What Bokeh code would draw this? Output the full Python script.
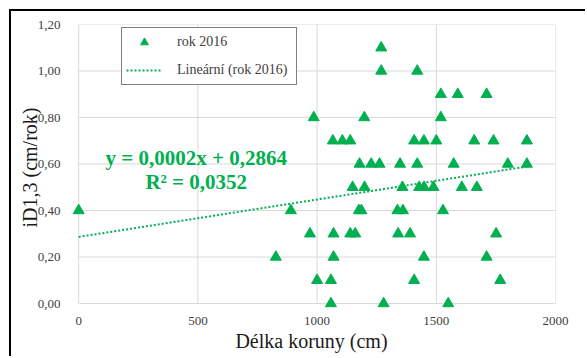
from bokeh.plotting import figure
from bokeh.models import Range1d, Legend, LegendItem, Label, FixedTicker
from bokeh.embed import file_html
from bokeh.resources import INLINE

# ---- data ----
x_vals = [0, 827, 890, 970, 986, 1000, 1058, 1058, 1066, 1069, 1069, 1106, 1139,
          1139, 1160, 1149, 1178, 1175, 1186, 1198, 1199, 1227, 1262, 1269, 1269,
          1279, 1337, 1340, 1348, 1358, 1360, 1390, 1407, 1407, 1420, 1420, 1428,
          1448, 1449, 1448, 1488, 1500, 1519, 1519, 1528, 1550, 1573, 1590, 1607,
          1659, 1670, 1711, 1711, 1740, 1751, 1768, 1800, 1880, 1880]
y_vals = [0.4, 0.2, 0.4, 0.3, 0.8, 0.1, 0.1, 0.0, 0.7, 0.3, 0.2, 0.7, 0.7,
          0.3, 0.3, 0.5, 0.6, 0.4, 0.4, 0.8, 0.5, 0.6, 0.6, 1.1, 1.0,
          0.0, 0.4, 0.3, 0.6, 0.5, 0.4, 0.3, 0.7, 0.1, 1.0, 0.6, 0.5,
          0.7, 0.5, 0.2, 0.5, 0.7, 0.9, 0.8, 0.4, 0.0, 0.6, 0.9, 0.5,
          0.7, 0.5, 0.9, 0.2, 0.7, 0.3, 0.1, 0.6, 0.7, 0.6]
trend_x = [0, 1880]
trend_y = [0.2864, 0.589]

x_ticks = [0, 500, 1000, 1500, 2000]
y_ticks = [0.0, 0.2, 0.4, 0.6, 0.8, 1.0, 1.2]
y_tick_labels = ["0,00", "0,20", "0,40", "0,60", "0,80", "1,00", "1,20"]

series_name = "rok 2016"
trend_name = "Lineární (rok 2016)"
eq_text = "y = 0,0002x + 0,2864"
r2_text = "R² = 0,0352"
x_title = "Délka koruny  (cm)"
y_title = "iD1,3 (cm/rok)"

GREEN = "#00B050"
GRID = "#d9d9d9"
FONT = "Liberation Serif"

x_min, x_max = x_ticks[0], x_ticks[-1]
y_min, y_max = y_ticks[0], y_ticks[-1]

p = figure(width=576, height=347, output_backend="svg", toolbar_location=None,
           x_range=Range1d(-26, x_max), y_range=Range1d(-0.03, y_max),
           min_border_left=61, min_border_right=32, min_border_top=13,
           min_border_bottom=48, background_fill_color="white",
           border_fill_color="white")
p.margin = (9, 0, 0, 9)
p.styles = {"border-left": "2px solid black", "border-top": "2px solid black"}
p.outline_line_color = None
p.xgrid.visible = False
p.ygrid.visible = False

# plot-area grid (drawn from the tick arrays so it stops at the axes)
p.segment(x0=x_ticks, y0=[y_min] * len(x_ticks), x1=x_ticks,
          y1=[y_max] * len(x_ticks), line_color=GRID, line_width=1)
p.segment(x0=[x_min] * len(y_ticks), y0=y_ticks, x1=[x_max] * len(y_ticks),
          y1=y_ticks, line_color=GRID, line_width=1)

p.xaxis.ticker = FixedTicker(ticks=x_ticks)
p.yaxis.ticker = FixedTicker(ticks=y_ticks)
p.yaxis.major_label_overrides = {t: l for t, l in zip(y_ticks, y_tick_labels)}

for ax in (p.xaxis[0], p.yaxis[0]):
    ax.axis_line_color = None
    ax.major_tick_line_color = None
    ax.minor_tick_line_color = None
    ax.major_label_text_font = FONT
    ax.major_label_text_font_size = "13px"
    ax.major_label_text_color = "#404040"
    ax.axis_label_text_font = FONT
    ax.axis_label_text_font_size = "20px"
    ax.axis_label_text_font_style = "normal"
    ax.axis_label_text_color = "#1a1a1a"

p.xaxis.axis_label = x_title
p.yaxis.axis_label = y_title
p.xaxis.major_label_standoff = 0
p.yaxis.major_label_standoff = 6
p.xaxis.axis_label_standoff = 2
p.yaxis.axis_label_standoff = -6

sc = p.scatter(x_vals, y_vals, marker="triangle", size=11,
               fill_color=GREEN, line_color=GREEN)
ln = p.line(trend_x, trend_y, line_color=GREEN, line_width=2, line_dash="2 2")

legend = Legend(items=[LegendItem(label=series_name, renderers=[sc]),
                       LegendItem(label=trend_name, renderers=[ln])],
                location=(49, 225), orientation="vertical",
                border_line_color="black", border_line_width=1,
                background_fill_color="white", background_fill_alpha=1,
                label_text_font=FONT, label_text_font_size="14px",
                label_text_color="#404040", glyph_width=36, glyph_height=20,
                label_height=20, label_width=115, label_standoff=15,
                padding=4, spacing=8, margin=0)
p.add_layout(legend)

p.add_layout(Label(x=493, y=0.627, text=eq_text, text_align="center",
                   text_baseline="alphabetic", text_font=FONT,
                   text_font_style="bold", text_font_size="21px",
                   text_color=GREEN))
p.add_layout(Label(x=493, y=0.524, text=r2_text, text_align="center",
                   text_baseline="alphabetic", text_font=FONT,
                   text_font_style="bold", text_font_size="21px",
                   text_color=GREEN))

open("out.html", "w").write(file_html(p, INLINE))
